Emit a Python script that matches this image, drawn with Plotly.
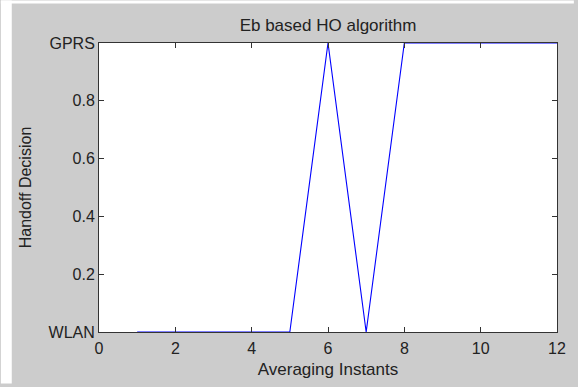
import plotly.graph_objects as go

# Data
instants = [1, 2, 3, 4, 5, 6, 7, 8, 9, 10, 11, 12]
decision = [0, 0, 0, 0, 0, 1, 0, 1, 1, 1, 1, 1]
x_ticks = [0, 2, 4, 6, 8, 10, 12]
y_ticks = [0, 0.2, 0.4, 0.6, 0.8, 1]
y_tick_labels = ["WLAN", "0.2", "0.4", "0.6", "0.8", "GPRS"]

W, H = 578, 387
ML, MR, MT, MB = 99, 17, 43, 52
FONT = "Liberation Sans, Arial, Helvetica, sans-serif"
GRAY = "#cccccc"
AX = "#333333"
TXT = "#222222"

fig = go.Figure()
fig.add_trace(go.Scatter(x=instants, y=decision, mode="lines",
                         line=dict(color="#0000ff", width=1.1),
                         showlegend=False, hoverinfo="skip"))

axis_common = dict(showline=True, linecolor=AX, linewidth=1, mirror="ticks",
                   ticks="inside", ticklen=5, tickcolor=AX, tickwidth=1,
                   showgrid=False, zeroline=False,
                   tickfont=dict(family=FONT, size=16, color=TXT))

fig.update_layout(
    width=W, height=H,
    margin=dict(l=ML, r=MR, t=MT, b=MB),
    paper_bgcolor=GRAY, plot_bgcolor="white",
    font=dict(family=FONT, color=TXT),
    title=dict(text="Eb based HO algorithm", x=0.5, xref="paper",
               y=1 - 25 / H, yref="container", yanchor="middle", xanchor="center",
               font=dict(family=FONT, size=17, color=TXT)),
    xaxis=dict(range=[0, 12], tickvals=x_ticks, ticktext=[str(v) for v in x_ticks],
               ticklabelstandoff=2,
               title=dict(text="Averaging Instants", standoff=6,
                          font=dict(family=FONT, size=17, color=TXT)),
               **axis_common),
    yaxis=dict(range=[0, 1], tickvals=y_ticks, ticktext=y_tick_labels,
               ticklabelstandoff=0,
               title=dict(text="Handoff Decision", standoff=12,
                          font=dict(family=FONT, size=16, color=TXT)),
               **axis_common),
)

# white margins of the original screenshot (left strip and top strip)
pw = W - ML - MR
ph = H - MT - MB
fig.layout.shapes = [
    dict(type="rect", xref="paper", yref="paper",
         x0=-ML / pw, x1=(11 - ML) / pw, y0=-MB / ph, y1=(H - MB) / ph,
         fillcolor="white", line=dict(width=0), layer="above"),
    dict(type="rect", xref="paper", yref="paper",
         x0=-ML / pw, x1=(W - ML) / pw, y0=(H - MB - 3) / ph, y1=(H - MB) / ph,
         fillcolor="white", line=dict(width=0), layer="above"),
]

fig.write_html("out.html")
